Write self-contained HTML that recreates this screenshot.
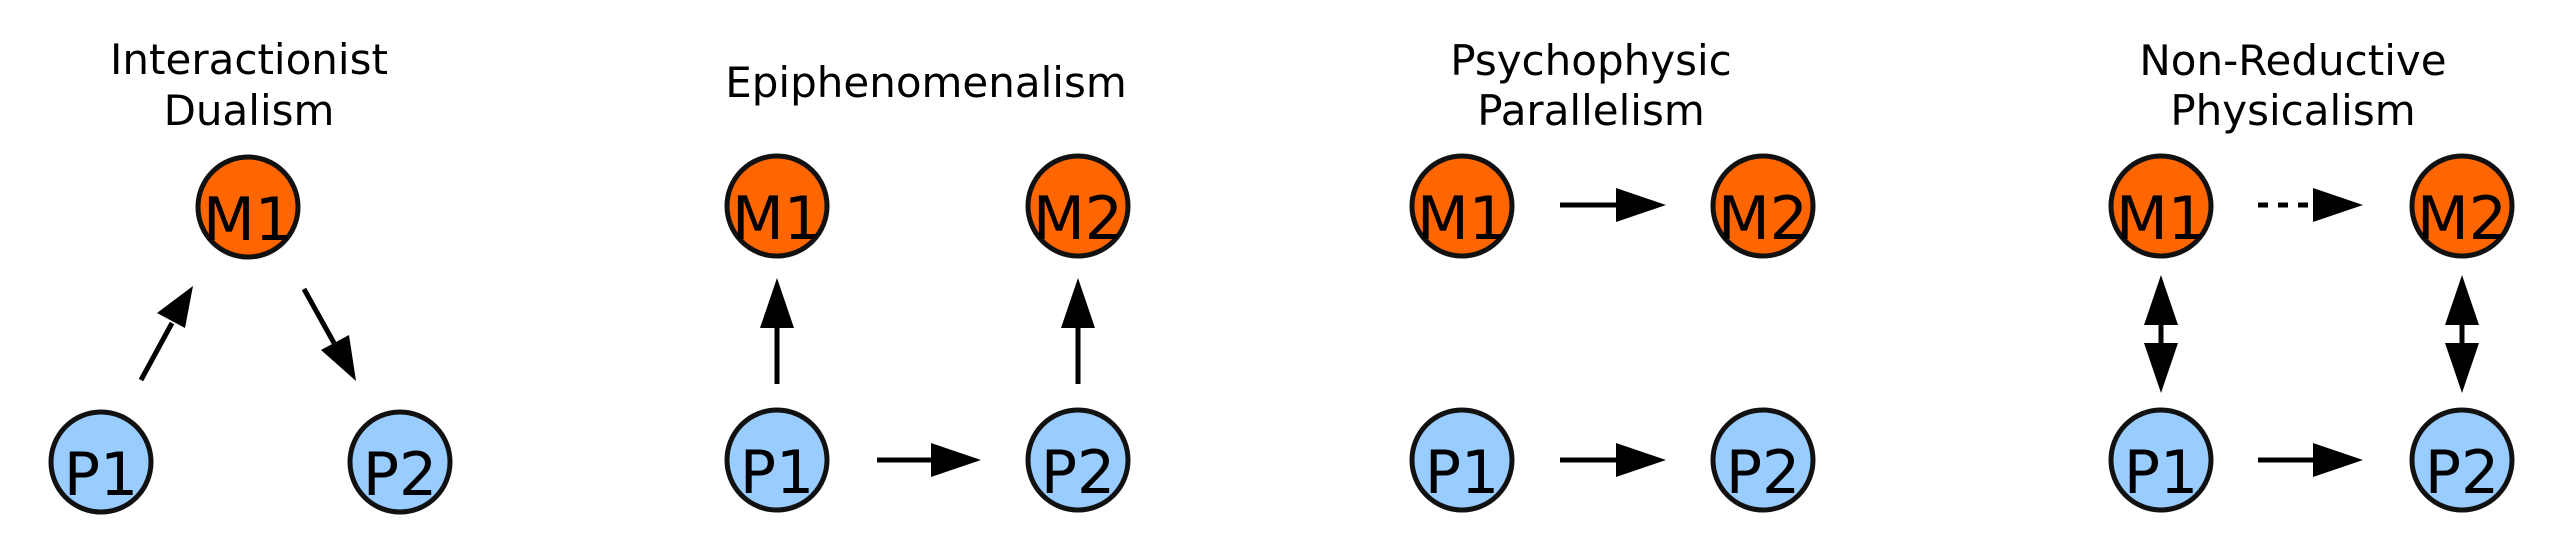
<!DOCTYPE html>
<html><head><meta charset="utf-8"><style>
html,body{margin:0;padding:0;background:#fff;}
svg{display:block;}
text{font-family:"DejaVu Sans","Liberation Sans",sans-serif;}
</style></head><body>
<svg width="2560" height="560" viewBox="0 0 2560 560" xmlns="http://www.w3.org/2000/svg">
<g font-size="42" text-anchor="middle" fill="#000">
<text x="249" y="74">Interactionist</text>
<text x="249" y="125">Dualism</text>
<text x="926" y="97">Epiphenomenalism</text>
<text x="1591" y="75">Psychophysic</text>
<text x="1591" y="125">Parallelism</text>
<text x="2293" y="75">Non-Reductive</text>
<text x="2293" y="125">Physicalism</text>
</g>
<g stroke="#111" stroke-width="5">
<circle cx="248" cy="207" r="50" fill="#ff6600"/>
<circle cx="101" cy="462" r="50" fill="#99ccff"/>
<circle cx="400" cy="462" r="50" fill="#99ccff"/>
<circle cx="777" cy="206" r="50" fill="#ff6600"/>
<circle cx="1078" cy="206" r="50" fill="#ff6600"/>
<circle cx="777" cy="460" r="50" fill="#99ccff"/>
<circle cx="1078" cy="460" r="50" fill="#99ccff"/>
<circle cx="1462" cy="206" r="50" fill="#ff6600"/>
<circle cx="1763" cy="206" r="50" fill="#ff6600"/>
<circle cx="1462" cy="460" r="50" fill="#99ccff"/>
<circle cx="1763" cy="460" r="50" fill="#99ccff"/>
<circle cx="2161" cy="206" r="50" fill="#ff6600"/>
<circle cx="2462" cy="206" r="50" fill="#ff6600"/>
<circle cx="2161" cy="460" r="50" fill="#99ccff"/>
<circle cx="2462" cy="460" r="50" fill="#99ccff"/>
</g>
<g font-size="60" text-anchor="middle" fill="#000">
<text x="248" y="240">M1</text>
<text x="101" y="495">P1</text>
<text x="400" y="495">P2</text>
<text x="777" y="239">M1</text>
<text x="1078" y="239">M2</text>
<text x="777" y="493">P1</text>
<text x="1078" y="493">P2</text>
<text x="1462" y="239">M1</text>
<text x="1763" y="239">M2</text>
<text x="1462" y="493">P1</text>
<text x="1763" y="493">P2</text>
<text x="2161" y="239">M1</text>
<text x="2462" y="239">M2</text>
<text x="2161" y="493">P1</text>
<text x="2462" y="493">P2</text>
</g>
<g stroke="#000" stroke-width="5" fill="none">
<line x1="141" y1="380" x2="172" y2="323"/>
<line x1="304" y1="289" x2="334" y2="343"/>
<line x1="777" y1="384" x2="777" y2="325"/>
<line x1="1078" y1="384" x2="1078" y2="325"/>
<line x1="877" y1="460" x2="932" y2="460"/>
<line x1="1560" y1="205" x2="1616" y2="205"/>
<line x1="1560" y1="460" x2="1616" y2="460"/>
<line x1="2258" y1="205" x2="2313" y2="205" stroke-dasharray="10 10"/>
<line x1="2258" y1="460" x2="2313" y2="460"/>
<line x1="2161" y1="322" x2="2161" y2="345"/>
<line x1="2462" y1="322" x2="2462" y2="345"/>
</g>
<g fill="#000">
<polygon points="193,286 157,313 185,328"/>
<polygon points="356,381 321,350 349,335"/>
<polygon points="777,278 760,328 794,328"/>
<polygon points="1078,278 1061,328 1095,328"/>
<polygon points="981,460 931,443 931,477"/>
<polygon points="1666,205 1616,188 1616,222"/>
<polygon points="1666,460 1616,443 1616,477"/>
<polygon points="2363,205 2313,188 2313,222"/>
<polygon points="2363,460 2313,443 2313,477"/>
<polygon points="2161,275 2144,325 2178,325"/>
<polygon points="2161,393 2144,343 2178,343"/>
<polygon points="2462,275 2445,325 2479,325"/>
<polygon points="2462,393 2445,343 2479,343"/>
</g>
</svg>
</body></html>
